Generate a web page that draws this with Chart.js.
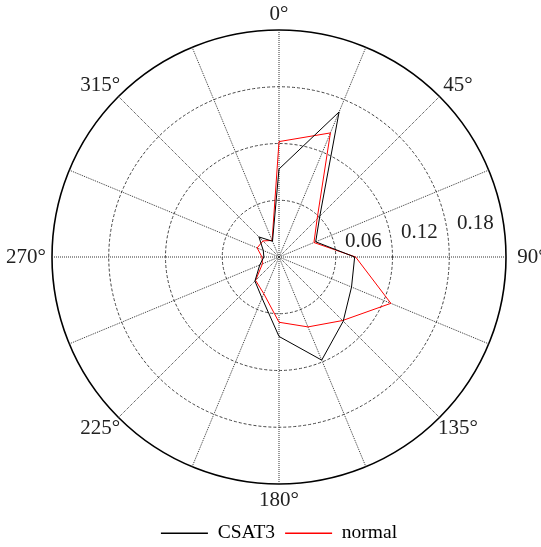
<!DOCTYPE html>
<html>
<head>
<meta charset="utf-8">
<script src="https://cdn.jsdelivr.net/npm/chart.js@4/dist/chart.umd.min.js"></script>
<style>
  html, body { margin: 0; padding: 0; background: #fff; }
  canvas { display: block; }
</style>
</head>
<body>
<canvas id="rose" width="541" height="547"></canvas>
<script>
// Sector directions (degrees, clockwise from north) and their labels
const directions = [0, 22.5, 45, 67.5, 90, 112.5, 135, 157.5, 180, 202.5, 225, 247.5, 270, 292.5, 315, 337.5];
const angleLabels = ['0°', '', '45°', '', '90°', '', '135°', '', '180°', '', '225°', '', '270°', '', '315°', ''];

// Relative frequency per direction sector
const csat3  = [0.093, 0.166, 0.061, 0.042, 0.080, 0.083, 0.096, 0.118, 0.084, 0.047, 0.036, 0.022, 0.016, 0.018, 0.030, 0.018];
const normal = [0.122, 0.142, 0.057, 0.040, 0.081, 0.128, 0.095, 0.080, 0.069, 0.042, 0.035, 0.019, 0.018, 0.025, 0.024, 0.019];

// Radial axis
const radialMax = 0.24;
const radialStep = 0.06;
const radialTicks = [0.06, 0.12, 0.18];
const radialTickLabels = ['0.06', '0.12', '0.18'];

const serif = "'Liberation Serif', 'Times New Roman', serif";

// Writes the compass labels and the radial tick labels using the scale geometry
const polarText = {
  id: 'polarText',
  afterDraw(chart) {
    const s = chart.scales.r;
    const ctx = chart.ctx;
    ctx.save();
    ctx.fillStyle = '#222';
    ctx.font = '21px ' + serif;
    ctx.textAlign = 'center';
    ctx.textBaseline = 'middle';
    angleLabels.forEach((txt, i) => {
      if (!txt) return;
      // labels sit a little further out at the sides than at top and bottom
      const ph = s.getPointPosition(i, s.drawingArea + 26);
      const pv = s.getPointPosition(i, s.drawingArea + 16);
      ctx.fillText(txt, ph.x, pv.y);
    });
    // radial labels sit just outside their rings, 81° clockwise from north
    const a = 81 * Math.PI / 180;
    ctx.textAlign = 'left';
    ctx.textBaseline = 'alphabetic';
    radialTicks.forEach((v, i) => {
      const d = s.getDistanceFromCenterForValue(v) + 10;
      ctx.fillText(radialTickLabels[i], s.xCenter + d * Math.sin(a), s.yCenter - d * Math.cos(a));
    });
    ctx.restore();
  }
};

new Chart(document.getElementById('rose'), {
  type: 'radar',
  data: {
    labels: angleLabels,
    datasets: [
      { label: 'CSAT3', data: csat3, borderColor: '#000000', backgroundColor: '#000000', borderWidth: 1, fill: false },
      { label: 'normal', data: normal, borderColor: '#ff0000', backgroundColor: '#ff0000', borderWidth: 1, fill: false }
    ]
  },
  options: {
    responsive: false,
    animation: false,
    layout: { padding: { left: 52, right: 35, top: 1, bottom: -6 } },
    elements: {
      line: { tension: 0 },
      point: { radius: 0, hoverRadius: 0 }
    },
    scales: {
      r: {
        min: 0,
        max: radialMax,
        startAngle: 0,
        ticks: { display: false, stepSize: radialStep },
        pointLabels: { display: false },
        grid: {
          circular: true,
          color: c => c.index === 4 ? '#000' : '#444',
          lineWidth: c => c.index === 4 ? 1.6 : 1
        },
        border: { dash: c => c.index === 4 ? [] : [3, 2] },
        angleLines: { color: '#333', lineWidth: 1, borderDash: [1, 1] }
      }
    },
    plugins: {
      tooltip: { enabled: false },
      legend: {
        position: 'bottom',
        labels: {
          usePointStyle: true,
          pointStyleWidth: 47,
          boxHeight: 19,
          padding: 10,
          color: '#222',
          font: { family: serif, size: 19.5 },
          generateLabels: chart => chart.data.datasets.map((ds, i) => ({
            text: ds.label,
            pointStyle: 'line',
            fillStyle: ds.borderColor,
            strokeStyle: ds.borderColor,
            lineWidth: 1.3,
            hidden: false,
            datasetIndex: i
          }))
        }
      }
    }
  },
  plugins: [polarText]
});
</script>
</body>
</html>
